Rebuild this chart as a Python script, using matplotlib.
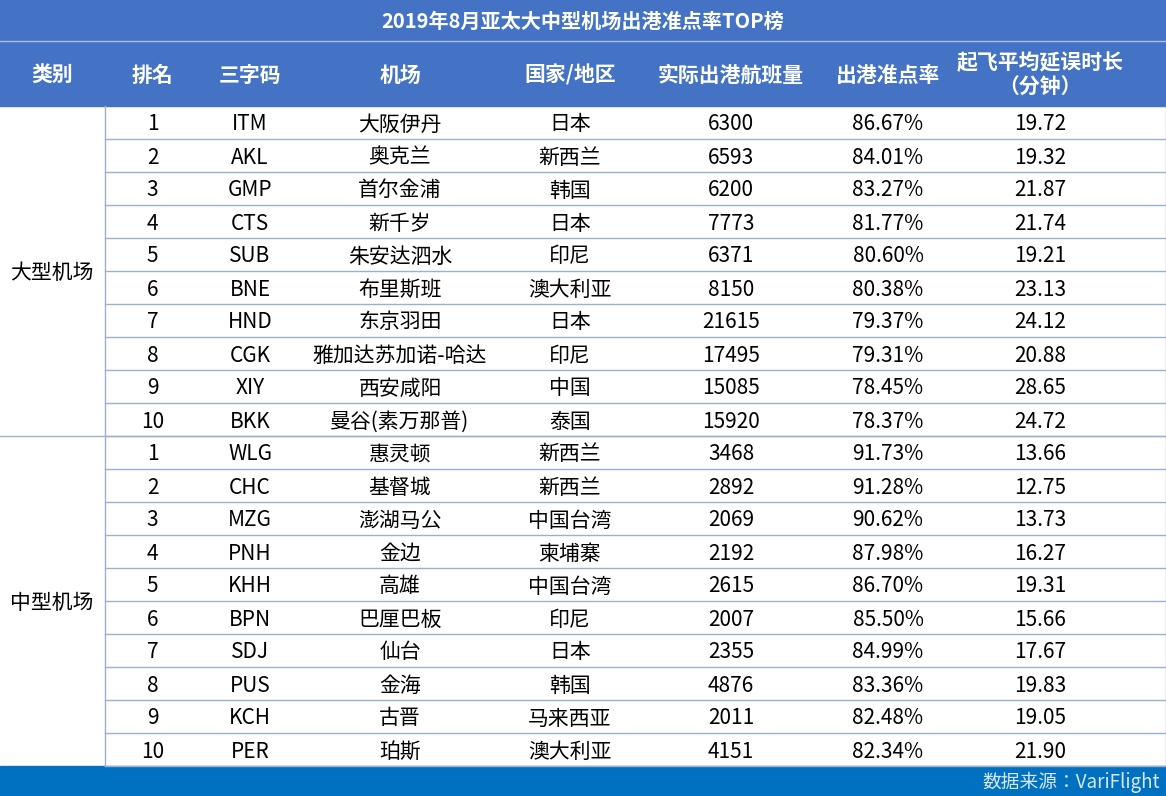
import matplotlib
matplotlib.use("Agg")
import matplotlib.pyplot as plt
from matplotlib.patches import Rectangle
from matplotlib import font_manager as fm

title = "2019年8月亚太大中型机场出港准点率TOP榜"
headers = ["类别", "排名", "三字码", "机场", "国家/地区", "实际出港航班量", "出港准点率", "起飞平均延误时长\n（分钟）"]
groups = ["大型机场", "中型机场"]
ranks = [1,2,3,4,5,6,7,8,9,10]*2
codes = ["ITM","AKL","GMP","CTS","SUB","BNE","HND","CGK","XIY","BKK",
         "WLG","CHC","MZG","PNH","KHH","BPN","SDJ","PUS","KCH","PER"]
airports = ["大阪伊丹","奥克兰","首尔金浦","新千岁","朱安达泗水","布里斯班","东京羽田","雅加达苏加诺-哈达","西安咸阳","曼谷(素万那普)",
            "惠灵顿","基督城","澎湖马公","金边","高雄","巴厘巴板","仙台","金海","古晋","珀斯"]
countries = ["日本","新西兰","韩国","日本","印尼","澳大利亚","日本","印尼","中国","泰国",
             "新西兰","新西兰","中国台湾","柬埔寨","中国台湾","印尼","日本","韩国","马来西亚","澳大利亚"]
flights = [6300,6593,6200,7773,6371,8150,21615,17495,15085,15920,
           3468,2892,2069,2192,2615,2007,2355,4876,2011,4151]
ontime = [86.67,84.01,83.27,81.77,80.60,80.38,79.37,79.31,78.45,78.37,
          91.73,91.28,90.62,87.98,86.70,85.50,84.99,83.36,82.48,82.34]
delay = [19.72,19.32,21.87,21.74,19.21,23.13,24.12,20.88,28.65,24.72,
         13.66,12.75,13.73,16.27,19.31,15.66,17.67,19.83,19.05,21.90]
source = "数据来源：VariFlight"

fam = "DejaVu Sans"
names = {f.name for f in fm.fontManager.ttflist}
for cand in ["Noto Sans CJK SC", "Noto Sans CJK JP", "Noto Sans CJK TC", "Noto Sans CJK KR"]:
    if cand in names:
        fam = cand
        break
else:
    for f in fm.fontManager.ttflist:
        if "CJK" in f.fname or "CJK" in f.name:
            fm.fontManager.addfont(f.fname)
            fam = f.name
            break
plt.rcParams["font.family"] = fam

W, H = 1166, 796
fig = plt.figure(figsize=(W/100, H/100), dpi=100)
ax = fig.add_axes([0, 0, 1, 1])
ax.set_xlim(0, W); ax.set_ylim(H, 0); ax.axis("off")

blue = "#4472C4"; line = "#9DB0CC"
ax.add_patch(Rectangle((0, 0), W, 40, color=blue))
ax.add_patch(Rectangle((0, 41), W, 65, color=blue))
ax.plot([0, W], [40.5, 40.5], color="#A9C0E8", lw=1)
ax.add_patch(Rectangle((0, 766), W, 30, color="#0070C0"))
ax.text(W/2, 21, title, ha="center", va="center", color="white", fontsize=14.5, fontweight="bold")

bounds = [0, 105, 200, 300, 500, 640, 820, 960, W]
centers = [(bounds[i]+bounds[i+1])/2 for i in range(8)]
centers[5] = 731; centers[6] = 888; centers[7] = 1040
for c, h in zip(centers, headers):
    ax.text(c, 75, h, ha="center", va="center", color="white", fontsize=15, fontweight="bold", linespacing=1.25)

top = 106; rh = 33
for i in range(20):
    y = top + rh*i + rh/2
    vals = [str(ranks[i]), codes[i], airports[i], countries[i], str(flights[i]), f"{ontime[i]:.2f}%", f"{delay[i]:.2f}"]
    for c, v in zip(centers[1:], vals):
        ax.text(c, y + 2, v, ha="center", va="center", color="black", fontsize=15)
    ax.plot([105, W], [top + rh*(i+1), top + rh*(i+1)], color=line, lw=1)
ax.plot([0, W], [top+rh*10, top+rh*10], color=line, lw=1)
ax.plot([105, 105], [top, 766], color=line, lw=1)
ax.plot([W-0.5, W-0.5], [top, 766], color=line, lw=1)
for g, gi in enumerate(groups):
    ax.text(52, top + rh*10*g + rh*5 + 2, gi, ha="center", va="center", fontsize=15)
ax.text(1160, 782, source, ha="right", va="center", color="#D6E6F5", fontsize=13.5, style="italic")
fig.savefig("out.png", dpi=100)
